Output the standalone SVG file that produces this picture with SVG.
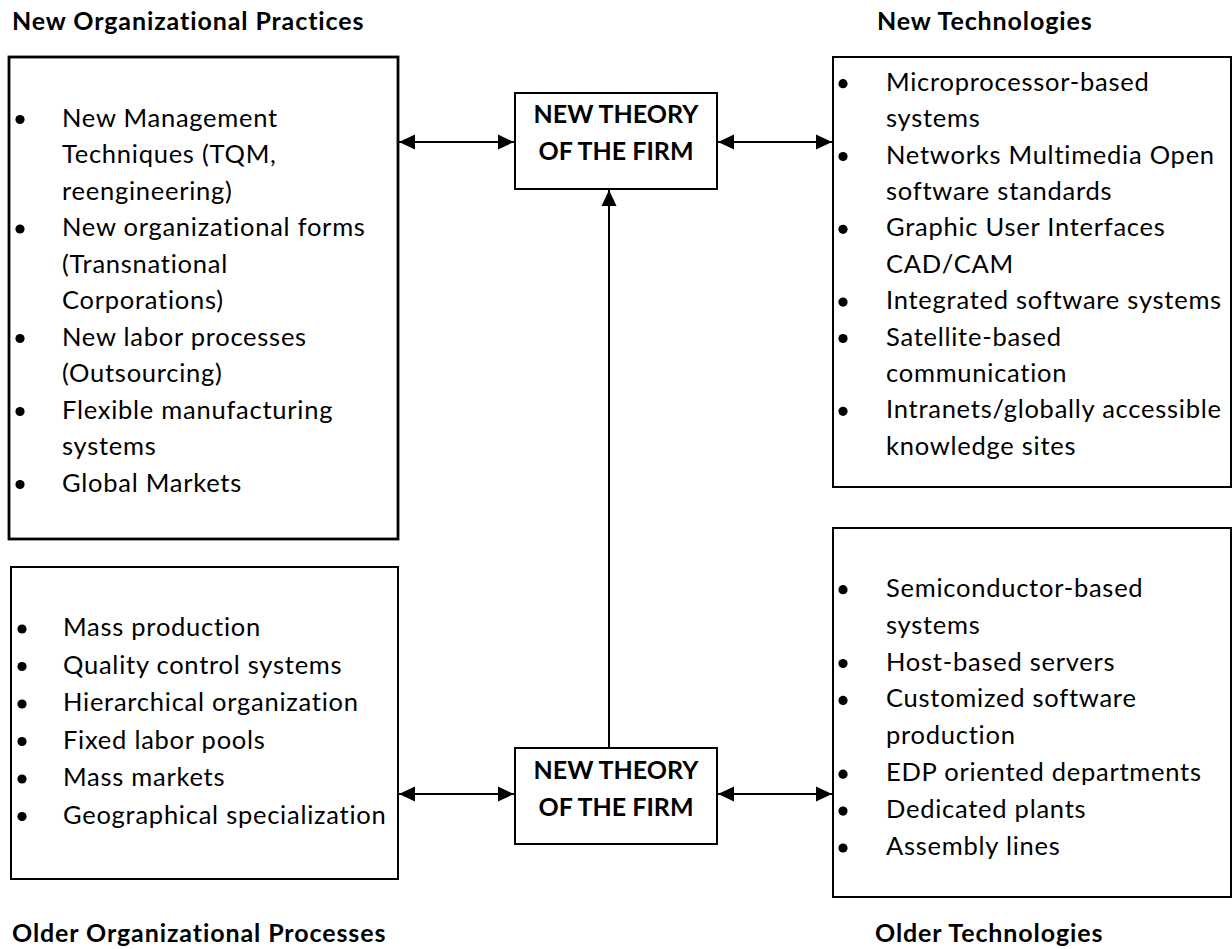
<svg xmlns="http://www.w3.org/2000/svg" width="1232" height="949" viewBox="0 0 1232 949">
  <style>
    .box { fill: #ffffff; stroke: #000000; stroke-width: 2; }
    .box-heavy { fill: #ffffff; stroke: #000000; stroke-width: 2.8; }
    .item { font-family: Lato, "Liberation Sans", sans-serif; font-size: 25.5px; letter-spacing: 0.75px; fill: #000000; }
    .head { font-family: Lato, "Liberation Sans", sans-serif; font-size: 25px; letter-spacing: 0.9px; font-weight: bold; fill: #000000; }
    .core { font-family: Lato, "Liberation Sans", sans-serif; font-size: 25px; font-weight: bold; fill: #000000; text-anchor: middle; }
    .link { stroke: #000000; stroke-width: 2; fill: none; }
    .dot { fill: #000000; }
  </style>
  <defs>
    <marker id="arrow" viewBox="0 0 16 16" refX="16" refY="8" markerWidth="16" markerHeight="16" markerUnits="userSpaceOnUse" orient="auto-start-reverse">
      <path d="M0,0.5 L16,8 L0,15.5 Z" fill="#000000"/>
    </marker>
  </defs>

  <!-- section headings -->
  <g id="headings">
    <text class="head" x="12" y="30">New Organizational Practices</text>
    <text class="head" x="877" y="30">New Technologies</text>
    <text class="head" x="12" y="942">Older Organizational Processes</text>
    <text class="head" x="875" y="942">Older Technologies</text>
  </g>

  <!-- connectors -->
  <g id="connectors">
    <line class="link" x1="399" y1="142" x2="514" y2="142" marker-start="url(#arrow)" marker-end="url(#arrow)"/>
    <line class="link" x1="718" y1="142" x2="832" y2="142" marker-start="url(#arrow)" marker-end="url(#arrow)"/>
    <line class="link" x1="399" y1="794" x2="514" y2="794" marker-start="url(#arrow)" marker-end="url(#arrow)"/>
    <line class="link" x1="718" y1="794" x2="832" y2="794" marker-start="url(#arrow)" marker-end="url(#arrow)"/>
    <line class="link" x1="609" y1="748" x2="609" y2="190" marker-end="url(#arrow)"/>
  </g>

  <!-- new organizational practices -->
  <g id="new-practices">
    <rect class="box-heavy" x="9" y="57" width="389" height="482"/>
    <circle class="dot" cx="20" cy="119.5" r="4.6"/>
    <circle class="dot" cx="20" cy="229" r="4.6"/>
    <circle class="dot" cx="20" cy="338.5" r="4.6"/>
    <circle class="dot" cx="20" cy="411.5" r="4.6"/>
    <circle class="dot" cx="20" cy="484.5" r="4.6"/>
    <text class="item" x="62" y="126.7">New Management</text>
    <text class="item" x="62" y="163.2">Techniques (TQM,</text>
    <text class="item" x="62" y="199.7">reengineering)</text>
    <text class="item" x="62" y="236.2">New organizational forms</text>
    <text class="item" x="62" y="272.7">(Transnational</text>
    <text class="item" x="62" y="309.2">Corporations)</text>
    <text class="item" x="62" y="345.7">New labor processes</text>
    <text class="item" x="62" y="382.2">(Outsourcing)</text>
    <text class="item" x="62" y="418.7">Flexible manufacturing</text>
    <text class="item" x="62" y="455.2">systems</text>
    <text class="item" x="62" y="491.7">Global Markets</text>
  </g>

  <!-- new technologies -->
  <g id="new-technologies">
    <rect class="box" x="833" y="57" width="398" height="430"/>
    <circle class="dot" cx="843" cy="83.7" r="4.6"/>
    <circle class="dot" cx="843" cy="156.5" r="4.6"/>
    <circle class="dot" cx="843" cy="229.3" r="4.6"/>
    <circle class="dot" cx="843" cy="302.1" r="4.6"/>
    <circle class="dot" cx="843" cy="338.5" r="4.6"/>
    <circle class="dot" cx="843" cy="411.3" r="4.6"/>
    <text class="item" x="886" y="90.7">Microprocessor-based</text>
    <text class="item" x="886" y="127.1">systems</text>
    <text class="item" x="886" y="163.5">Networks Multimedia Open</text>
    <text class="item" x="886" y="199.9">software standards</text>
    <text class="item" x="886" y="236.3">Graphic User Interfaces</text>
    <text class="item" x="886" y="272.7">CAD/CAM</text>
    <text class="item" x="886" y="309.1">Integrated software systems</text>
    <text class="item" x="886" y="345.5">Satellite-based</text>
    <text class="item" x="886" y="381.9">communication</text>
    <text class="item" x="886" y="418.3">Intranets/globally accessible</text>
    <text class="item" x="886" y="454.7">knowledge sites</text>
  </g>

  <!-- older organizational processes -->
  <g id="older-processes">
    <rect class="box" x="11" y="567" width="387" height="312"/>
    <circle class="dot" cx="22" cy="629" r="4.6"/>
    <circle class="dot" cx="22" cy="666.5" r="4.6"/>
    <circle class="dot" cx="22" cy="704" r="4.6"/>
    <circle class="dot" cx="22" cy="741.5" r="4.6"/>
    <circle class="dot" cx="22" cy="779" r="4.6"/>
    <circle class="dot" cx="22" cy="816.5" r="4.6"/>
    <text class="item" x="63" y="636">Mass production</text>
    <text class="item" x="63" y="673.5">Quality control systems</text>
    <text class="item" x="63" y="711">Hierarchical organization</text>
    <text class="item" x="63" y="748.5">Fixed labor pools</text>
    <text class="item" x="63" y="786">Mass markets</text>
    <text class="item" x="63" y="823.5">Geographical specialization</text>
  </g>

  <!-- older technologies -->
  <g id="older-technologies">
    <rect class="box" x="833" y="528" width="398" height="369"/>
    <circle class="dot" cx="843" cy="589.7" r="4.6"/>
    <circle class="dot" cx="843" cy="663.5" r="4.6"/>
    <circle class="dot" cx="843" cy="700.4" r="4.6"/>
    <circle class="dot" cx="843" cy="774.2" r="4.6"/>
    <circle class="dot" cx="843" cy="811.1" r="4.6"/>
    <circle class="dot" cx="843" cy="848" r="4.6"/>
    <text class="item" x="886" y="596.7">Semiconductor-based</text>
    <text class="item" x="886" y="633.6">systems</text>
    <text class="item" x="886" y="670.5">Host-based servers</text>
    <text class="item" x="886" y="707.4">Customized software</text>
    <text class="item" x="886" y="744.3">production</text>
    <text class="item" x="886" y="781.2">EDP oriented departments</text>
    <text class="item" x="886" y="818.1">Dedicated plants</text>
    <text class="item" x="886" y="855">Assembly lines</text>
  </g>

  <!-- central theory boxes -->
  <g id="theory-top">
    <rect class="box" x="515" y="93" width="202" height="96"/>
    <text class="core" x="616" y="123">NEW THEORY</text>
    <text class="core" x="616" y="160">OF THE FIRM</text>
  </g>
  <g id="theory-bottom">
    <rect class="box" x="515" y="748" width="202" height="96"/>
    <text class="core" x="616" y="779">NEW THEORY</text>
    <text class="core" x="616" y="816">OF THE FIRM</text>
  </g>
</svg>
